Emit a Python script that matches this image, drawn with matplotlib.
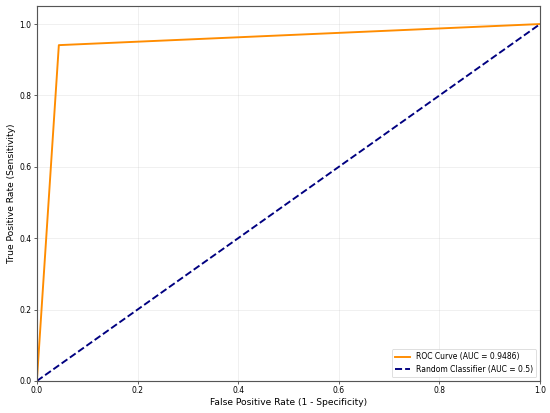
import matplotlib
matplotlib.use("Agg")
import matplotlib.pyplot as plt

fpr = [0.0, 0.0437, 1.0]
tpr = [0.0, 0.9409, 1.0]
roc_auc = 0.9486
rand_x = [0.0, 1.0]
rand_y = [0.0, 1.0]

fig, ax = plt.subplots(figsize=(10, 7.5091), dpi=55)
ax.plot(fpr, tpr, color='darkorange', lw=2.5, label=f'ROC Curve (AUC = {roc_auc:.4f})')
ax.plot(rand_x, rand_y, color='navy', lw=2.5, linestyle='--', label='Random Classifier (AUC = 0.5)')
ax.set_xlim(0.0, 1.0)
ax.set_ylim(0.0, 1.05)
ax.set_xlabel('False Positive Rate (1 - Specificity)', fontsize=12)
ax.set_ylabel('True Positive Rate (Sensitivity)', fontsize=12)
ax.legend(loc='lower right', fontsize=10)
ax.grid(True, alpha=0.3)
for s in ax.spines.values():
    s.set_color('#555555')
    s.set_linewidth(1.5)
fig.subplots_adjust(left=0.067, right=0.982, top=0.985, bottom=0.0775)
fig.savefig('out.png', dpi=55)
